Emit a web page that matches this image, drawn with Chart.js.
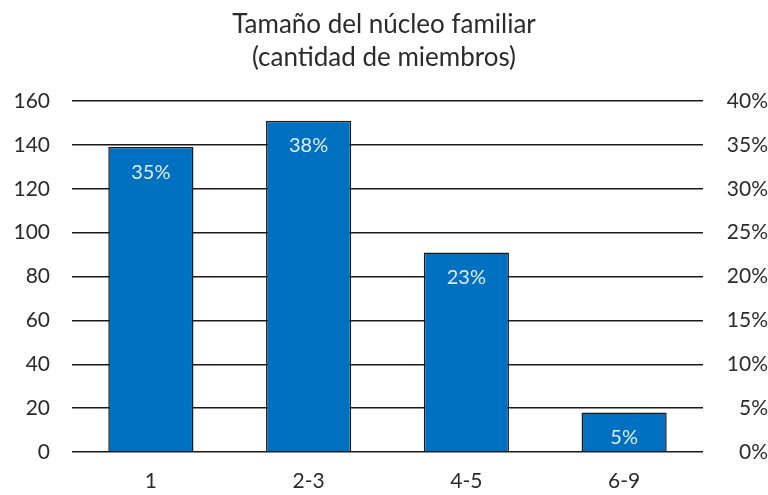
<!DOCTYPE html>
<html>
<head>
<meta charset="utf-8">
<script src="https://cdn.jsdelivr.net/npm/chart.js@4/dist/chart.umd.min.js"></script>
<style>
html,body{margin:0;padding:0;background:#fff;}
#wrap{width:768px;height:495px;}
</style>
</head>
<body>
<div id="wrap"><canvas id="c" width="768" height="495"></canvas></div>
<script>
const titleLines = ['Tamaño del núcleo familiar', '(cantidad de miembros)'];
const categories = ['1', '2-3', '4-5', '6-9'];
const counts = [139, 151, 91, 18];
const pctLabels = ['35%', '38%', '23%', '5%'];
const leftAxis = { min: 0, max: 160, step: 20 };
const rightAxis = { min: 0, max: 0.40, step: 0.05 };

const FONT = "Lato, 'Liberation Sans', sans-serif";
const TEXT = '#2b2b2b';

const barLabels = {
  id: 'barLabels',
  afterDatasetsDraw(chart) {
    const ctx = chart.ctx;
    const meta = chart.getDatasetMeta(0);
    ctx.save();
    ctx.font = '20px ' + FONT;
    ctx.fillStyle = '#e4ecf5';
    ctx.textAlign = 'center';
    ctx.textBaseline = 'middle';
    meta.data.forEach((bar, i) => {
      ctx.fillText(pctLabels[i], bar.x, bar.y + 25);
    });
    ctx.restore();
  }
};

new Chart(document.getElementById('c'), {
  type: 'bar',
  data: {
    labels: categories,
    datasets: [{
      data: counts,
      backgroundColor: '#0070C0',
      borderColor: '#1a1a1a',
      borderWidth: 1.5,
      borderSkipped: 'bottom',
      categoryPercentage: 0.54,
      barPercentage: 1.0,
      yAxisID: 'y'
    }]
  },
  options: {
    responsive: false,
    animation: false,
    devicePixelRatio: 1,
    layout: { padding: 0 },
    plugins: {
      legend: { display: false },
      tooltip: { enabled: false },
      title: {
        display: true,
        text: titleLines,
        color: TEXT,
        font: { family: FONT, size: 26, weight: 'normal', lineHeight: 1.27 },
        padding: { top: 8, bottom: 27 }
      }
    },
    scales: {
      x: {
        grid: { display: false, drawTicks: false },
        border: { display: false },
        ticks: { color: TEXT, font: { family: FONT, size: 21 }, padding: 17 },
        afterFit(s) { s.height = 43; }
      },
      y: {
        position: 'left',
        min: leftAxis.min, max: leftAxis.max,
        ticks: { stepSize: leftAxis.step, color: TEXT, font: { family: FONT, size: 21 }, padding: 22 },
        grid: { color: '#1a1a1a', lineWidth: 1.5, drawTicks: false },
        border: { display: false },
        afterFit(s) { s.width = 72; }
      },
      y2: {
        position: 'right',
        min: rightAxis.min, max: rightAxis.max,
        ticks: {
          stepSize: rightAxis.step, color: TEXT, font: { family: FONT, size: 21 }, padding: 5,
          crossAlign: 'far',
          callback: v => Math.round(v * 100) + '%'
        },
        grid: { display: false, drawTicks: false },
        border: { display: false },
        afterFit(s) { s.width = 65; }
      }
    }
  },
  plugins: [barLabels]
});
</script>
</body>
</html>
